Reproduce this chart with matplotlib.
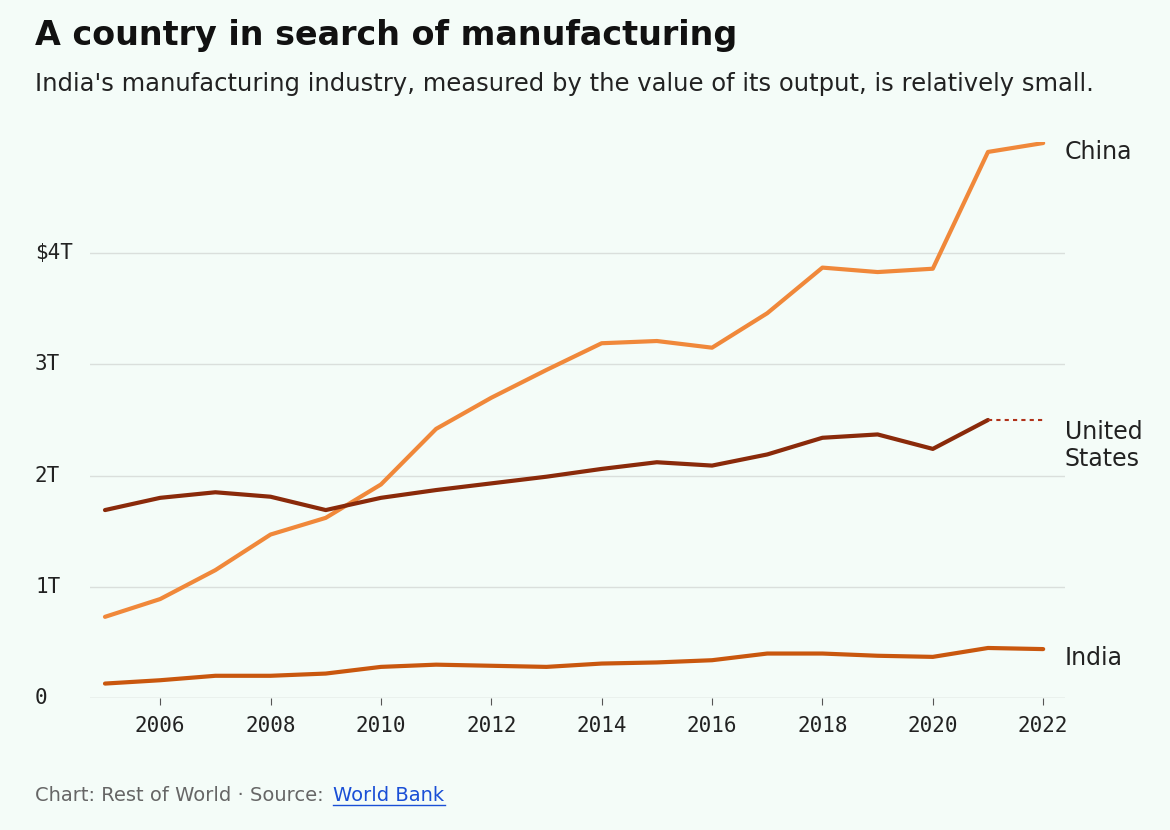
import matplotlib
matplotlib.use("Agg")
import matplotlib.pyplot as plt
import matplotlib.transforms as mtrans

years = list(range(2005, 2023))
china = [0.73,0.89,1.15,1.47,1.62,1.92,2.42,2.70,2.95,3.19,3.21,3.15,3.46,3.87,3.83,3.86,4.91,4.99]
us = [1.69,1.80,1.85,1.81,1.69,1.80,1.87,1.93,1.99,2.06,2.12,2.09,2.19,2.34,2.37,2.24,2.50]
india = [0.13,0.16,0.20,0.20,0.22,0.28,0.30,0.29,0.28,0.31,0.32,0.34,0.40,0.40,0.38,0.37,0.45,0.44]
yticks = [0,1,2,3,4]
ylabels = ["0","1T","2T","3T","$4T"]
xticks = list(range(2006, 2023, 2))

bg = "#F4FCF8"
fig = plt.figure(figsize=(11.7, 8.3), dpi=100, facecolor=bg)
ax = fig.add_axes([0.077, 0.159, 0.833, 0.670], facecolor=bg)
ax.plot(years, china, color="#F0883A", lw=3, solid_capstyle="round")
ax.plot(years[:len(us)], us, color="#8A2A0A", lw=3, solid_capstyle="round")
ax.plot([2021, 2022], [us[-1], us[-1]], color="#B0321A", lw=1.5, ls=(0, (2, 2)))
ax.plot(years, india, color="#C9570E", lw=3, solid_capstyle="round")
ax.set_xlim(2004.73, 2022.39)
ax.set_ylim(0, 5.0)
ax.set_yticks(yticks)
ax.set_yticklabels([])
ax.set_xticks(xticks)
ax.grid(axis="y", color="#DADFDC", lw=1)
for s in ax.spines.values():
    s.set_visible(False)
ax.tick_params(axis="y", length=0)
ax.tick_params(axis="x", length=5, color="#555", pad=8, labelsize=15, labelcolor="#222")
for t in ax.get_xticklabels():
    t.set_family("DejaVu Sans Mono")
ytr = mtrans.blended_transform_factory(fig.transFigure, ax.transData)
for v, lab in zip(yticks, ylabels):
    fig.text(35/1170, v, lab, transform=ytr, fontsize=15, family="DejaVu Sans Mono",
             color="#222", ha="left", va="center")
ax.axhline(0, color="#DADFDC", lw=1)
ltr = mtrans.blended_transform_factory(fig.transFigure, ax.transData)
for y, lab in [(china[-1] - 0.08, "China"), (2.27, "United\nStates"), (india[-1] - 0.08, "India")]:
    fig.text(1065/1170, y, lab, transform=ltr, fontsize=17, color="#222", va="center", ha="left",
             linespacing=1.2)
fig.text(35/1170, 1 - 35/830, "A country in search of manufacturing", fontsize=24, fontweight="bold",
         va="center", ha="left", color="#111")
fig.text(35/1170, 1 - 84/830, "India's manufacturing industry, measured by the value of its output, is relatively small.",
         fontsize=17.5, va="center", ha="left", color="#222")
fig.text(35/1170, 1 - 795/830, "Chart: Rest of World · Source:", fontsize=14, color="#666", va="center", ha="left")
fig.text(333/1170, 1 - 795/830, "World Bank", fontsize=14, color="#1a4fd6", va="center", ha="left")
fig.add_artist(plt.Line2D([333/1170, 445/1170], [1 - 805/830]*2, color="#1a4fd6", lw=1))
fig.savefig("out.png", facecolor=bg)
